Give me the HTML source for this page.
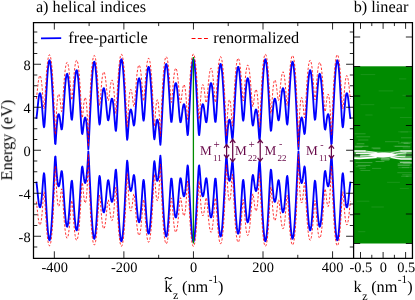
<!DOCTYPE html>
<html><head><meta charset="utf-8"><title>bands</title><style>html,body{margin:0;padding:0;background:#fff;}body{width:415px;height:300px;overflow:hidden;font-family:"Liberation Serif",serif;}</style></head><body>
<svg width="415" height="300" viewBox="0 0 415 300" text-rendering="geometricPrecision" style="display:block;font-family:'Liberation Serif',serif">
<rect width="415" height="300" fill="#fff"/>
<rect x="353.60" y="66.3" width="58.85" height="177.2" fill="#008b00"/>
<g id="gap" fill="none" stroke="#fff" stroke-linecap="round">
<path d="M354.2,150.2 L383.7,151.8 L411.9,150.2 V159.6 L383.7,158.2 L354.2,159.6 Z" fill="#fff" stroke="none" opacity="0.3"/>
<path d="M368,155 Q376,152.3 383.7,152.6 Q391,152.4 398,154.7 Q391,157.3 383.7,157.5 Q376,157.8 368,155 Z" fill="#fff" stroke="none"/>
<path d="M354.6,151 H365" stroke-width="1.6"/>
<path d="M365,151 Q371,151.4 377,152.8" stroke-width="1.1" opacity="0.75"/>
<path d="M356.5,153.4 Q366,153.5 376,153" stroke-width="1.3" opacity="0.95"/>
<path d="M360.5,156 Q368,155.9 376,155.5" stroke-width="1.1" opacity="0.9"/>
<path d="M354.6,158.2 Q365,158.6 376,157.2" stroke-width="1.7"/>
<path d="M411.4,151 H401" stroke-width="1.5" opacity="0.95"/>
<path d="M401,150.9 Q396,151.6 391,153" stroke-width="1.2" opacity="0.7"/>
<path d="M406,152.9 Q401,153.2 396,154" stroke-width="1.1" opacity="0.7"/>
<path d="M392,156 Q398,156.7 405,156.8" stroke-width="1.1" opacity="0.85"/>
<path d="M391,157 Q396,158.6 401,158.9 H411.4" stroke-width="1.5" opacity="0.95"/>
<path d="M382,159.3 H388.5" stroke-width="2.4" opacity="0.3"/>
<path d="M400.5,162.4 H411.4" stroke-width="1.1" opacity="0.5"/>
<path d="M355,146.3 H368 M372,148 H380 M395,146.4 H410 M356,162.6 H372 M358,165.4 H370 M398,165 H410 M404,143.3 H410 M357,143.8 H364 M376,161.5 H384" stroke-width="1" opacity="0.25"/>
<path d="M406.1,176.2 h5.4 M398.4,143.1 h9.6 M398.7,167.7 h10.0 M355.0,133.8 h10.2 M399.5,161.8 h10.0 M403.7,163.3 h7.8 M355.2,147.4 h6.7 M358.5,140.0 h9.5 M372.5,168.4 h8.3 M401.3,137.8 h10.2 M397.7,172.7 h13.8 M398.1,163.6 h13.4 M356.9,136.8 h12.9 M360.8,170.5 h9.1 M359.8,168.6 h5.5 M398.2,165.6 h11.0 M356.1,166.7 h9.4 M403.0,163.1 h8.5 M355.5,146.3 h7.5 M402.6,174.8 h8.7 M401.5,176.3 h6.6 M373.5,148.8 h6.6 M401.4,142.3 h10.1 M385.4,141.7 h13.6 M402.2,167.4 h9.3 M403.1,147.9 h6.5" stroke-width="0.8" opacity="0.2"/>
<path d="M399.5,78.9 h6.4 M398.6,131.8 h12.9 M402.9,95.3 h8.1 M379.0,90.9 h13.9 M403.3,152.3 h5.9 M365.7,115.0 h6.5 M358.6,231.7 h6.3 M361.0,74.6 h13.8 M400.2,188.4 h8.3 M357.0,201.2 h12.0 M390.6,107.9 h13.9 M371.8,207.0 h11.7 M398.5,158.0 h5.3 M400.3,117.5 h11.2 M393.7,146.0 h13.9 M400.8,132.0 h7.0 M360.8,104.7 h13.1 M355.1,151.5 h12.2 M387.5,182.3 h12.0 M399.4,151.3 h12.1" stroke-width="0.8" opacity="0.12"/>
</g>
<g fill="none" stroke-linejoin="round">
<path d="M36.30,118.81 L36.70,116.32 L37.10,112.82 L37.50,108.83 L37.90,104.80 L38.30,101.05 L38.70,97.85 L39.10,95.38 L39.50,93.77 L39.90,93.11 L40.30,93.47 L40.70,94.87 L41.10,97.28 L41.50,100.65 L41.90,104.87 L42.30,109.79 L42.70,115.11 L43.10,120.39 L43.50,124.83 L43.90,127.22 L44.31,126.38 L44.71,122.36 L45.11,116.21 L45.51,108.99 L45.91,101.38 L46.31,93.83 L46.71,86.64 L47.11,80.03 L47.51,74.17 L47.91,69.21 L48.31,65.27 L48.71,62.42 L49.11,60.74 L49.51,60.24 L49.91,60.95 L50.31,62.85 L50.71,65.90 L51.11,70.04 L51.51,75.19 L51.91,81.24 L52.31,88.08 L52.71,95.57 L53.11,103.56 L53.51,111.88 L53.91,120.37 L54.31,128.80 L54.71,136.88 L55.11,143.65 L55.51,143.99 L55.91,138.34 L56.31,132.31 L56.71,126.88 L57.11,122.30 L57.51,118.68 L57.91,116.10 L58.31,114.57 L58.71,114.12 L59.11,114.69 L59.51,116.21 L59.92,118.56 L60.32,121.50 L60.72,124.71 L61.12,127.63 L61.52,129.43 L61.92,129.20 L62.32,126.60 L62.72,122.10 L63.12,116.42 L63.52,110.18 L63.92,103.79 L64.32,97.57 L64.72,91.75 L65.12,86.53 L65.52,82.05 L65.92,78.45 L66.32,75.83 L66.72,74.26 L67.12,73.78 L67.52,74.43 L67.92,76.18 L68.32,79.01 L68.72,82.83 L69.12,87.55 L69.52,92.99 L69.92,98.96 L70.32,105.13 L70.72,111.05 L71.12,116.05 L71.52,119.23 L71.92,119.73 L72.32,117.37 L72.72,112.79 L73.12,106.93 L73.52,100.55 L73.92,94.17 L74.32,88.17 L74.72,82.79 L75.12,78.22 L75.52,74.60 L75.93,72.02 L76.33,70.54 L76.73,70.20 L77.13,70.99 L77.53,72.90 L77.93,75.88 L78.33,79.84 L78.73,84.70 L79.13,90.32 L79.53,96.57 L79.93,103.27 L80.33,110.21 L80.73,117.13 L81.13,123.67 L81.53,129.27 L81.93,133.03 L82.33,134.01 L82.73,132.28 L83.13,129.09 L83.53,125.56 L83.93,122.34 L84.33,119.80 L84.73,118.14 L85.13,117.48 L85.53,117.88 L85.93,119.37 L86.33,121.95 L86.73,125.58 L87.13,130.21 L87.53,135.76 L87.93,142.13 L88.33,149.19 L88.73,143.66 L89.13,135.60 L89.53,127.28 L89.93,118.85 L90.33,110.48 L90.73,102.32 L91.13,94.55 L91.54,87.32 L91.94,80.76 L92.34,75.01 L92.74,70.19 L93.14,66.38 L93.54,63.67 L93.94,62.12 L94.34,61.75 L94.74,62.57 L95.14,64.57 L95.54,67.70 L95.94,71.90 L96.34,77.07 L96.74,83.08 L97.14,89.76 L97.54,96.92 L97.94,104.27 L98.34,111.42 L98.74,117.79 L99.14,122.51 L99.54,124.53 L99.94,123.38 L100.34,119.70 L100.74,114.65 L101.14,109.17 L101.54,103.83 L101.94,99.00 L102.34,94.91 L102.74,91.72 L103.14,89.50 L103.54,88.33 L103.94,88.20 L104.34,89.10 L104.74,90.97 L105.14,93.73 L105.54,97.24 L105.94,101.34 L106.34,105.80 L106.74,110.33 L107.15,114.53 L107.55,117.93 L107.95,119.99 L108.35,120.36 L108.75,119.02 L109.15,116.38 L109.55,112.99 L109.95,109.37 L110.35,105.92 L110.75,102.94 L111.15,100.64 L111.55,99.17 L111.95,98.64 L112.35,99.11 L112.75,100.61 L113.15,103.11 L113.55,106.57 L113.95,110.87 L114.35,115.83 L114.75,121.14 L115.15,126.22 L115.55,130.00 L115.95,130.85 L116.35,127.94 L116.75,122.22 L117.15,115.02 L117.55,107.22 L117.95,99.32 L118.35,91.65 L118.75,84.44 L119.15,77.90 L119.55,72.17 L119.95,67.38 L120.35,63.63 L120.75,61.00 L121.15,59.55 L121.55,59.30 L121.95,60.26 L122.35,62.41 L122.76,65.71 L123.16,70.09 L123.56,75.47 L123.96,81.73 L124.36,88.75 L124.76,96.38 L125.16,104.46 L125.56,112.79 L125.96,121.14 L126.36,129.14 L126.76,136.07 L127.16,139.88 L127.56,138.11 L127.96,133.08 L128.36,127.48 L128.76,122.26 L129.16,117.76 L129.56,114.16 L129.96,111.55 L130.36,109.98 L130.76,109.44 L131.16,109.91 L131.56,111.31 L131.96,113.52 L132.36,116.33 L132.76,119.46 L133.16,122.46 L133.56,124.72 L133.96,125.50 L134.36,124.30 L134.76,121.17 L135.16,116.61 L135.56,111.22 L135.96,105.50 L136.36,99.81 L136.76,94.43 L137.16,89.58 L137.56,85.44 L137.96,82.13 L138.36,79.78 L138.77,78.45 L139.17,78.20 L139.57,79.04 L139.97,80.97 L140.37,83.93 L140.77,87.86 L141.17,92.62 L141.57,98.05 L141.97,103.89 L142.37,109.75 L142.77,115.08 L143.17,119.04 L143.57,120.66 L143.97,119.34 L144.37,115.41 L144.77,109.77 L145.17,103.26 L145.57,96.53 L145.97,89.99 L146.37,83.95 L146.77,78.61 L147.17,74.14 L147.57,70.66 L147.97,68.25 L148.37,66.98 L148.77,66.87 L149.17,67.91 L149.57,70.09 L149.97,73.34 L150.37,77.61 L150.77,82.78 L151.17,88.75 L151.57,95.38 L151.97,102.50 L152.37,109.96 L152.77,117.52 L153.17,124.94 L153.57,131.77 L153.97,137.15 L154.38,139.33 L154.78,137.42 L155.18,133.47 L155.58,129.25 L155.98,125.50 L156.38,122.55 L156.78,120.56 L157.18,119.61 L157.58,119.76 L157.98,121.01 L158.38,123.34 L158.78,126.71 L159.18,131.02 L159.58,136.10 L159.98,141.50 L160.38,144.85 L160.78,141.04 L161.18,134.00 L161.58,126.18 L161.98,118.12 L162.38,110.06 L162.78,102.20 L163.18,94.71 L163.58,87.75 L163.98,81.47 L164.38,75.99 L164.78,71.44 L165.18,67.90 L165.58,65.46 L165.98,64.16 L166.38,64.04 L166.78,65.09 L167.18,67.30 L167.58,70.62 L167.98,74.97 L168.38,80.23 L168.78,86.28 L169.18,92.92 L169.58,99.91 L169.99,106.90 L170.39,113.40 L170.79,118.68 L171.19,121.77 L171.59,121.91 L171.99,119.22 L172.39,114.63 L172.79,109.14 L173.19,103.46 L173.59,98.08 L173.99,93.28 L174.39,89.26 L174.79,86.18 L175.19,84.10 L175.59,83.08 L175.99,83.13 L176.39,84.23 L176.79,86.33 L177.19,89.34 L177.59,93.16 L177.99,97.63 L178.39,102.56 L178.79,107.68 L179.19,112.68 L179.59,117.11 L179.99,120.46 L180.39,122.20 L180.79,122.09 L181.19,120.36 L181.59,117.56 L181.99,114.29 L182.39,111.06 L182.79,108.22 L183.19,106.02 L183.59,104.63 L183.99,104.17 L184.39,104.70 L184.79,106.26 L185.19,108.84 L185.60,112.37 L186.00,116.76 L186.40,121.82 L186.80,127.20 L187.20,132.16 L187.60,135.09 L188.00,133.92 L188.40,128.87 L188.80,121.79 L189.20,113.86 L189.60,105.69 L190.00,97.64 L190.40,89.94 L190.80,82.80 L191.20,76.37 L191.60,70.80 L192.00,66.20 L192.40,62.67 L192.80,60.28 L193.20,59.07 L193.60,59.07 L194.00,60.28 L194.40,62.67 L194.80,66.20 L195.20,70.80 L195.60,76.37 L196.00,82.80 L196.40,89.94 L196.80,97.64 L197.20,105.69 L197.60,113.86 L198.00,121.79 L198.40,128.87 L198.80,133.92 L199.20,135.09 L199.60,132.16 L200.00,127.20 L200.40,121.82 L200.80,116.76 L201.20,112.37 L201.61,108.84 L202.01,106.26 L202.41,104.70 L202.81,104.17 L203.21,104.63 L203.61,106.02 L204.01,108.22 L204.41,111.06 L204.81,114.29 L205.21,117.56 L205.61,120.36 L206.01,122.09 L206.41,122.20 L206.81,120.46 L207.21,117.11 L207.61,112.68 L208.01,107.68 L208.41,102.56 L208.81,97.63 L209.21,93.16 L209.61,89.34 L210.01,86.33 L210.41,84.23 L210.81,83.13 L211.21,83.08 L211.61,84.10 L212.01,86.18 L212.41,89.26 L212.81,93.28 L213.21,98.08 L213.61,103.46 L214.01,109.14 L214.41,114.63 L214.81,119.22 L215.21,121.91 L215.61,121.77 L216.01,118.68 L216.41,113.40 L216.81,106.90 L217.22,99.91 L217.62,92.92 L218.02,86.28 L218.42,80.23 L218.82,74.97 L219.22,70.62 L219.62,67.30 L220.02,65.09 L220.42,64.04 L220.82,64.16 L221.22,65.46 L221.62,67.90 L222.02,71.44 L222.42,75.99 L222.82,81.47 L223.22,87.75 L223.62,94.71 L224.02,102.20 L224.42,110.06 L224.82,118.12 L225.22,126.18 L225.62,134.00 L226.02,141.04 L226.42,144.85 L226.82,141.50 L227.22,136.10 L227.62,131.02 L228.02,126.71 L228.42,123.34 L228.82,121.01 L229.22,119.76 L229.62,119.61 L230.02,120.56 L230.42,122.55 L230.82,125.50 L231.22,129.25 L231.62,133.47 L232.02,137.42 L232.42,139.33 L232.83,137.15 L233.23,131.77 L233.63,124.94 L234.03,117.52 L234.43,109.96 L234.83,102.50 L235.23,95.38 L235.63,88.75 L236.03,82.78 L236.43,77.61 L236.83,73.34 L237.23,70.09 L237.63,67.91 L238.03,66.87 L238.43,66.98 L238.83,68.25 L239.23,70.66 L239.63,74.14 L240.03,78.61 L240.43,83.95 L240.83,89.99 L241.23,96.53 L241.63,103.26 L242.03,109.77 L242.43,115.41 L242.83,119.34 L243.23,120.66 L243.63,119.04 L244.03,115.08 L244.43,109.75 L244.83,103.89 L245.23,98.05 L245.63,92.62 L246.03,87.86 L246.43,83.93 L246.83,80.97 L247.23,79.04 L247.63,78.20 L248.03,78.45 L248.44,79.78 L248.84,82.13 L249.24,85.44 L249.64,89.58 L250.04,94.43 L250.44,99.81 L250.84,105.50 L251.24,111.22 L251.64,116.61 L252.04,121.17 L252.44,124.30 L252.84,125.50 L253.24,124.72 L253.64,122.46 L254.04,119.46 L254.44,116.33 L254.84,113.52 L255.24,111.31 L255.64,109.91 L256.04,109.44 L256.44,109.98 L256.84,111.55 L257.24,114.16 L257.64,117.76 L258.04,122.26 L258.44,127.48 L258.84,133.08 L259.24,138.11 L259.64,139.88 L260.04,136.07 L260.44,129.14 L260.84,121.14 L261.24,112.79 L261.64,104.46 L262.04,96.38 L262.44,88.75 L262.84,81.73 L263.24,75.47 L263.64,70.09 L264.04,65.71 L264.45,62.41 L264.85,60.26 L265.25,59.30 L265.65,59.55 L266.05,61.00 L266.45,63.63 L266.85,67.38 L267.25,72.17 L267.65,77.90 L268.05,84.44 L268.45,91.65 L268.85,99.32 L269.25,107.22 L269.65,115.02 L270.05,122.22 L270.45,127.94 L270.85,130.85 L271.25,130.00 L271.65,126.22 L272.05,121.14 L272.45,115.83 L272.85,110.87 L273.25,106.57 L273.65,103.11 L274.05,100.61 L274.45,99.11 L274.85,98.64 L275.25,99.17 L275.65,100.64 L276.05,102.94 L276.45,105.92 L276.85,109.37 L277.25,112.99 L277.65,116.38 L278.05,119.02 L278.45,120.36 L278.85,119.99 L279.25,117.93 L279.65,114.53 L280.06,110.33 L280.46,105.80 L280.86,101.34 L281.26,97.24 L281.66,93.73 L282.06,90.97 L282.46,89.10 L282.86,88.20 L283.26,88.33 L283.66,89.50 L284.06,91.72 L284.46,94.91 L284.86,99.00 L285.26,103.83 L285.66,109.17 L286.06,114.65 L286.46,119.70 L286.86,123.38 L287.26,124.53 L287.66,122.51 L288.06,117.79 L288.46,111.42 L288.86,104.27 L289.26,96.92 L289.66,89.76 L290.06,83.08 L290.46,77.07 L290.86,71.90 L291.26,67.70 L291.66,64.57 L292.06,62.57 L292.46,61.75 L292.86,62.12 L293.26,63.67 L293.66,66.38 L294.06,70.19 L294.46,75.01 L294.86,80.76 L295.26,87.32 L295.67,94.55 L296.07,102.32 L296.47,110.48 L296.87,118.85 L297.27,127.28 L297.67,135.60 L298.07,143.66 L298.47,149.19 L298.87,142.13 L299.27,135.76 L299.67,130.21 L300.07,125.58 L300.47,121.95 L300.87,119.37 L301.27,117.88 L301.67,117.48 L302.07,118.14 L302.47,119.80 L302.87,122.34 L303.27,125.56 L303.67,129.09 L304.07,132.28 L304.47,134.01 L304.87,133.03 L305.27,129.27 L305.67,123.67 L306.07,117.13 L306.47,110.21 L306.87,103.27 L307.27,96.57 L307.67,90.32 L308.07,84.70 L308.47,79.84 L308.87,75.88 L309.27,72.90 L309.67,70.99 L310.07,70.20 L310.47,70.54 L310.87,72.02 L311.28,74.60 L311.68,78.22 L312.08,82.79 L312.48,88.17 L312.88,94.17 L313.28,100.55 L313.68,106.93 L314.08,112.79 L314.48,117.37 L314.88,119.73 L315.28,119.23 L315.68,116.05 L316.08,111.05 L316.48,105.13 L316.88,98.96 L317.28,92.99 L317.68,87.55 L318.08,82.83 L318.48,79.01 L318.88,76.18 L319.28,74.43 L319.68,73.78 L320.08,74.26 L320.48,75.83 L320.88,78.45 L321.28,82.05 L321.68,86.53 L322.08,91.75 L322.48,97.57 L322.88,103.79 L323.28,110.18 L323.68,116.42 L324.08,122.10 L324.48,126.60 L324.88,129.20 L325.28,129.43 L325.68,127.63 L326.08,124.71 L326.48,121.50 L326.88,118.56 L327.29,116.21 L327.69,114.69 L328.09,114.12 L328.49,114.57 L328.89,116.10 L329.29,118.68 L329.69,122.30 L330.09,126.88 L330.49,132.31 L330.89,138.34 L331.29,143.99 L331.69,143.65 L332.09,136.88 L332.49,128.80 L332.89,120.37 L333.29,111.88 L333.69,103.56 L334.09,95.57 L334.49,88.08 L334.89,81.24 L335.29,75.19 L335.69,70.04 L336.09,65.90 L336.49,62.85 L336.89,60.95 L337.29,60.24 L337.69,60.74 L338.09,62.42 L338.49,65.27 L338.89,69.21 L339.29,74.17 L339.69,80.03 L340.09,86.64 L340.49,93.83 L340.89,101.38 L341.29,108.99 L341.69,116.21 L342.09,122.36 L342.49,126.38 L342.90,127.22 L343.30,124.83 L343.70,120.39 L344.10,115.11 L344.50,109.79 L344.90,104.87 L345.30,100.65 L345.70,97.28 L346.10,94.87 L346.50,93.47 L346.90,93.11 L347.30,93.77 L347.70,95.38 L348.10,97.85 L348.50,101.05 L348.90,104.80 L349.30,108.83 L349.70,112.82 L350.10,116.32 L350.50,118.81" stroke="#0000ff" stroke-width="1.85"/>
<path d="M36.30,181.69 L36.70,184.18 L37.10,187.68 L37.50,191.67 L37.90,195.70 L38.30,199.45 L38.70,202.65 L39.10,205.12 L39.50,206.73 L39.90,207.39 L40.30,207.03 L40.70,205.63 L41.10,203.22 L41.50,199.85 L41.90,195.63 L42.30,190.71 L42.70,185.39 L43.10,180.11 L43.50,175.67 L43.90,173.28 L44.31,174.12 L44.71,178.14 L45.11,184.29 L45.51,191.51 L45.91,199.12 L46.31,206.67 L46.71,213.86 L47.11,220.47 L47.51,226.33 L47.91,231.29 L48.31,235.23 L48.71,238.08 L49.11,239.76 L49.51,240.26 L49.91,239.55 L50.31,237.65 L50.71,234.60 L51.11,230.46 L51.51,225.31 L51.91,219.26 L52.31,212.42 L52.71,204.93 L53.11,196.94 L53.51,188.62 L53.91,180.13 L54.31,171.70 L54.71,163.62 L55.11,156.85 L55.51,156.51 L55.91,162.16 L56.31,168.19 L56.71,173.62 L57.11,178.20 L57.51,181.82 L57.91,184.40 L58.31,185.93 L58.71,186.38 L59.11,185.81 L59.51,184.29 L59.92,181.94 L60.32,179.00 L60.72,175.79 L61.12,172.87 L61.52,171.07 L61.92,171.30 L62.32,173.90 L62.72,178.40 L63.12,184.08 L63.52,190.32 L63.92,196.71 L64.32,202.93 L64.72,208.75 L65.12,213.97 L65.52,218.45 L65.92,222.05 L66.32,224.67 L66.72,226.24 L67.12,226.72 L67.52,226.07 L67.92,224.32 L68.32,221.49 L68.72,217.67 L69.12,212.95 L69.52,207.51 L69.92,201.54 L70.32,195.37 L70.72,189.45 L71.12,184.45 L71.52,181.27 L71.92,180.77 L72.32,183.13 L72.72,187.71 L73.12,193.57 L73.52,199.95 L73.92,206.33 L74.32,212.33 L74.72,217.71 L75.12,222.28 L75.52,225.90 L75.93,228.48 L76.33,229.96 L76.73,230.30 L77.13,229.51 L77.53,227.60 L77.93,224.62 L78.33,220.66 L78.73,215.80 L79.13,210.18 L79.53,203.93 L79.93,197.23 L80.33,190.29 L80.73,183.37 L81.13,176.83 L81.53,171.23 L81.93,167.47 L82.33,166.49 L82.73,168.22 L83.13,171.41 L83.53,174.94 L83.93,178.16 L84.33,180.70 L84.73,182.36 L85.13,183.02 L85.53,182.62 L85.93,181.13 L86.33,178.55 L86.73,174.92 L87.13,170.29 L87.53,164.74 L87.93,158.37 L88.33,151.31 L88.73,156.84 L89.13,164.90 L89.53,173.22 L89.93,181.65 L90.33,190.02 L90.73,198.18 L91.13,205.95 L91.54,213.18 L91.94,219.74 L92.34,225.49 L92.74,230.31 L93.14,234.12 L93.54,236.83 L93.94,238.38 L94.34,238.75 L94.74,237.93 L95.14,235.93 L95.54,232.80 L95.94,228.60 L96.34,223.43 L96.74,217.42 L97.14,210.74 L97.54,203.58 L97.94,196.23 L98.34,189.08 L98.74,182.71 L99.14,177.99 L99.54,175.97 L99.94,177.12 L100.34,180.80 L100.74,185.85 L101.14,191.33 L101.54,196.67 L101.94,201.50 L102.34,205.59 L102.74,208.78 L103.14,211.00 L103.54,212.17 L103.94,212.30 L104.34,211.40 L104.74,209.53 L105.14,206.77 L105.54,203.26 L105.94,199.16 L106.34,194.70 L106.74,190.17 L107.15,185.97 L107.55,182.57 L107.95,180.51 L108.35,180.14 L108.75,181.48 L109.15,184.12 L109.55,187.51 L109.95,191.13 L110.35,194.58 L110.75,197.56 L111.15,199.86 L111.55,201.33 L111.95,201.86 L112.35,201.39 L112.75,199.89 L113.15,197.39 L113.55,193.93 L113.95,189.63 L114.35,184.67 L114.75,179.36 L115.15,174.28 L115.55,170.50 L115.95,169.65 L116.35,172.56 L116.75,178.28 L117.15,185.48 L117.55,193.28 L117.95,201.18 L118.35,208.85 L118.75,216.06 L119.15,222.60 L119.55,228.33 L119.95,233.12 L120.35,236.87 L120.75,239.50 L121.15,240.95 L121.55,241.20 L121.95,240.24 L122.35,238.09 L122.76,234.79 L123.16,230.41 L123.56,225.03 L123.96,218.77 L124.36,211.75 L124.76,204.12 L125.16,196.04 L125.56,187.71 L125.96,179.36 L126.36,171.36 L126.76,164.43 L127.16,160.62 L127.56,162.39 L127.96,167.42 L128.36,173.02 L128.76,178.24 L129.16,182.74 L129.56,186.34 L129.96,188.95 L130.36,190.52 L130.76,191.06 L131.16,190.59 L131.56,189.19 L131.96,186.98 L132.36,184.17 L132.76,181.04 L133.16,178.04 L133.56,175.78 L133.96,175.00 L134.36,176.20 L134.76,179.33 L135.16,183.89 L135.56,189.28 L135.96,195.00 L136.36,200.69 L136.76,206.07 L137.16,210.92 L137.56,215.06 L137.96,218.37 L138.36,220.72 L138.77,222.05 L139.17,222.30 L139.57,221.46 L139.97,219.53 L140.37,216.57 L140.77,212.64 L141.17,207.88 L141.57,202.45 L141.97,196.61 L142.37,190.75 L142.77,185.42 L143.17,181.46 L143.57,179.84 L143.97,181.16 L144.37,185.09 L144.77,190.73 L145.17,197.24 L145.57,203.97 L145.97,210.51 L146.37,216.55 L146.77,221.89 L147.17,226.36 L147.57,229.84 L147.97,232.25 L148.37,233.52 L148.77,233.63 L149.17,232.59 L149.57,230.41 L149.97,227.16 L150.37,222.89 L150.77,217.72 L151.17,211.75 L151.57,205.12 L151.97,198.00 L152.37,190.54 L152.77,182.98 L153.17,175.56 L153.57,168.73 L153.97,163.35 L154.38,161.17 L154.78,163.08 L155.18,167.03 L155.58,171.25 L155.98,175.00 L156.38,177.95 L156.78,179.94 L157.18,180.89 L157.58,180.74 L157.98,179.49 L158.38,177.16 L158.78,173.79 L159.18,169.48 L159.58,164.40 L159.98,159.00 L160.38,155.65 L160.78,159.46 L161.18,166.50 L161.58,174.32 L161.98,182.38 L162.38,190.44 L162.78,198.30 L163.18,205.79 L163.58,212.75 L163.98,219.03 L164.38,224.51 L164.78,229.06 L165.18,232.60 L165.58,235.04 L165.98,236.34 L166.38,236.46 L166.78,235.41 L167.18,233.20 L167.58,229.88 L167.98,225.53 L168.38,220.27 L168.78,214.22 L169.18,207.58 L169.58,200.59 L169.99,193.60 L170.39,187.10 L170.79,181.82 L171.19,178.73 L171.59,178.59 L171.99,181.28 L172.39,185.87 L172.79,191.36 L173.19,197.04 L173.59,202.42 L173.99,207.22 L174.39,211.24 L174.79,214.32 L175.19,216.40 L175.59,217.42 L175.99,217.37 L176.39,216.27 L176.79,214.17 L177.19,211.16 L177.59,207.34 L177.99,202.87 L178.39,197.94 L178.79,192.82 L179.19,187.82 L179.59,183.39 L179.99,180.04 L180.39,178.30 L180.79,178.41 L181.19,180.14 L181.59,182.94 L181.99,186.21 L182.39,189.44 L182.79,192.28 L183.19,194.48 L183.59,195.87 L183.99,196.33 L184.39,195.80 L184.79,194.24 L185.19,191.66 L185.60,188.13 L186.00,183.74 L186.40,178.68 L186.80,173.30 L187.20,168.34 L187.60,165.41 L188.00,166.58 L188.40,171.63 L188.80,178.71 L189.20,186.64 L189.60,194.81 L190.00,202.86 L190.40,210.56 L190.80,217.70 L191.20,224.13 L191.60,229.70 L192.00,234.30 L192.40,237.83 L192.80,240.22 L193.20,241.43 L193.60,241.43 L194.00,240.22 L194.40,237.83 L194.80,234.30 L195.20,229.70 L195.60,224.13 L196.00,217.70 L196.40,210.56 L196.80,202.86 L197.20,194.81 L197.60,186.64 L198.00,178.71 L198.40,171.63 L198.80,166.58 L199.20,165.41 L199.60,168.34 L200.00,173.30 L200.40,178.68 L200.80,183.74 L201.20,188.13 L201.61,191.66 L202.01,194.24 L202.41,195.80 L202.81,196.33 L203.21,195.87 L203.61,194.48 L204.01,192.28 L204.41,189.44 L204.81,186.21 L205.21,182.94 L205.61,180.14 L206.01,178.41 L206.41,178.30 L206.81,180.04 L207.21,183.39 L207.61,187.82 L208.01,192.82 L208.41,197.94 L208.81,202.87 L209.21,207.34 L209.61,211.16 L210.01,214.17 L210.41,216.27 L210.81,217.37 L211.21,217.42 L211.61,216.40 L212.01,214.32 L212.41,211.24 L212.81,207.22 L213.21,202.42 L213.61,197.04 L214.01,191.36 L214.41,185.87 L214.81,181.28 L215.21,178.59 L215.61,178.73 L216.01,181.82 L216.41,187.10 L216.81,193.60 L217.22,200.59 L217.62,207.58 L218.02,214.22 L218.42,220.27 L218.82,225.53 L219.22,229.88 L219.62,233.20 L220.02,235.41 L220.42,236.46 L220.82,236.34 L221.22,235.04 L221.62,232.60 L222.02,229.06 L222.42,224.51 L222.82,219.03 L223.22,212.75 L223.62,205.79 L224.02,198.30 L224.42,190.44 L224.82,182.38 L225.22,174.32 L225.62,166.50 L226.02,159.46 L226.42,155.65 L226.82,159.00 L227.22,164.40 L227.62,169.48 L228.02,173.79 L228.42,177.16 L228.82,179.49 L229.22,180.74 L229.62,180.89 L230.02,179.94 L230.42,177.95 L230.82,175.00 L231.22,171.25 L231.62,167.03 L232.02,163.08 L232.42,161.17 L232.83,163.35 L233.23,168.73 L233.63,175.56 L234.03,182.98 L234.43,190.54 L234.83,198.00 L235.23,205.12 L235.63,211.75 L236.03,217.72 L236.43,222.89 L236.83,227.16 L237.23,230.41 L237.63,232.59 L238.03,233.63 L238.43,233.52 L238.83,232.25 L239.23,229.84 L239.63,226.36 L240.03,221.89 L240.43,216.55 L240.83,210.51 L241.23,203.97 L241.63,197.24 L242.03,190.73 L242.43,185.09 L242.83,181.16 L243.23,179.84 L243.63,181.46 L244.03,185.42 L244.43,190.75 L244.83,196.61 L245.23,202.45 L245.63,207.88 L246.03,212.64 L246.43,216.57 L246.83,219.53 L247.23,221.46 L247.63,222.30 L248.03,222.05 L248.44,220.72 L248.84,218.37 L249.24,215.06 L249.64,210.92 L250.04,206.07 L250.44,200.69 L250.84,195.00 L251.24,189.28 L251.64,183.89 L252.04,179.33 L252.44,176.20 L252.84,175.00 L253.24,175.78 L253.64,178.04 L254.04,181.04 L254.44,184.17 L254.84,186.98 L255.24,189.19 L255.64,190.59 L256.04,191.06 L256.44,190.52 L256.84,188.95 L257.24,186.34 L257.64,182.74 L258.04,178.24 L258.44,173.02 L258.84,167.42 L259.24,162.39 L259.64,160.62 L260.04,164.43 L260.44,171.36 L260.84,179.36 L261.24,187.71 L261.64,196.04 L262.04,204.12 L262.44,211.75 L262.84,218.77 L263.24,225.03 L263.64,230.41 L264.04,234.79 L264.45,238.09 L264.85,240.24 L265.25,241.20 L265.65,240.95 L266.05,239.50 L266.45,236.87 L266.85,233.12 L267.25,228.33 L267.65,222.60 L268.05,216.06 L268.45,208.85 L268.85,201.18 L269.25,193.28 L269.65,185.48 L270.05,178.28 L270.45,172.56 L270.85,169.65 L271.25,170.50 L271.65,174.28 L272.05,179.36 L272.45,184.67 L272.85,189.63 L273.25,193.93 L273.65,197.39 L274.05,199.89 L274.45,201.39 L274.85,201.86 L275.25,201.33 L275.65,199.86 L276.05,197.56 L276.45,194.58 L276.85,191.13 L277.25,187.51 L277.65,184.12 L278.05,181.48 L278.45,180.14 L278.85,180.51 L279.25,182.57 L279.65,185.97 L280.06,190.17 L280.46,194.70 L280.86,199.16 L281.26,203.26 L281.66,206.77 L282.06,209.53 L282.46,211.40 L282.86,212.30 L283.26,212.17 L283.66,211.00 L284.06,208.78 L284.46,205.59 L284.86,201.50 L285.26,196.67 L285.66,191.33 L286.06,185.85 L286.46,180.80 L286.86,177.12 L287.26,175.97 L287.66,177.99 L288.06,182.71 L288.46,189.08 L288.86,196.23 L289.26,203.58 L289.66,210.74 L290.06,217.42 L290.46,223.43 L290.86,228.60 L291.26,232.80 L291.66,235.93 L292.06,237.93 L292.46,238.75 L292.86,238.38 L293.26,236.83 L293.66,234.12 L294.06,230.31 L294.46,225.49 L294.86,219.74 L295.26,213.18 L295.67,205.95 L296.07,198.18 L296.47,190.02 L296.87,181.65 L297.27,173.22 L297.67,164.90 L298.07,156.84 L298.47,151.31 L298.87,158.37 L299.27,164.74 L299.67,170.29 L300.07,174.92 L300.47,178.55 L300.87,181.13 L301.27,182.62 L301.67,183.02 L302.07,182.36 L302.47,180.70 L302.87,178.16 L303.27,174.94 L303.67,171.41 L304.07,168.22 L304.47,166.49 L304.87,167.47 L305.27,171.23 L305.67,176.83 L306.07,183.37 L306.47,190.29 L306.87,197.23 L307.27,203.93 L307.67,210.18 L308.07,215.80 L308.47,220.66 L308.87,224.62 L309.27,227.60 L309.67,229.51 L310.07,230.30 L310.47,229.96 L310.87,228.48 L311.28,225.90 L311.68,222.28 L312.08,217.71 L312.48,212.33 L312.88,206.33 L313.28,199.95 L313.68,193.57 L314.08,187.71 L314.48,183.13 L314.88,180.77 L315.28,181.27 L315.68,184.45 L316.08,189.45 L316.48,195.37 L316.88,201.54 L317.28,207.51 L317.68,212.95 L318.08,217.67 L318.48,221.49 L318.88,224.32 L319.28,226.07 L319.68,226.72 L320.08,226.24 L320.48,224.67 L320.88,222.05 L321.28,218.45 L321.68,213.97 L322.08,208.75 L322.48,202.93 L322.88,196.71 L323.28,190.32 L323.68,184.08 L324.08,178.40 L324.48,173.90 L324.88,171.30 L325.28,171.07 L325.68,172.87 L326.08,175.79 L326.48,179.00 L326.88,181.94 L327.29,184.29 L327.69,185.81 L328.09,186.38 L328.49,185.93 L328.89,184.40 L329.29,181.82 L329.69,178.20 L330.09,173.62 L330.49,168.19 L330.89,162.16 L331.29,156.51 L331.69,156.85 L332.09,163.62 L332.49,171.70 L332.89,180.13 L333.29,188.62 L333.69,196.94 L334.09,204.93 L334.49,212.42 L334.89,219.26 L335.29,225.31 L335.69,230.46 L336.09,234.60 L336.49,237.65 L336.89,239.55 L337.29,240.26 L337.69,239.76 L338.09,238.08 L338.49,235.23 L338.89,231.29 L339.29,226.33 L339.69,220.47 L340.09,213.86 L340.49,206.67 L340.89,199.12 L341.29,191.51 L341.69,184.29 L342.09,178.14 L342.49,174.12 L342.90,173.28 L343.30,175.67 L343.70,180.11 L344.10,185.39 L344.50,190.71 L344.90,195.63 L345.30,199.85 L345.70,203.22 L346.10,205.63 L346.50,207.03 L346.90,207.39 L347.30,206.73 L347.70,205.12 L348.10,202.65 L348.50,199.45 L348.90,195.70 L349.30,191.67 L349.70,187.68 L350.10,184.18 L350.50,181.69" stroke="#0000ff" stroke-width="1.85"/>
<path d="M36.30,98.91 L36.70,96.24 L37.10,92.67 L37.50,88.82 L37.90,85.13 L38.30,81.88 L38.70,79.23 L39.10,77.25 L39.50,76.00 L39.90,75.50 L40.30,75.77 L40.70,76.85 L41.10,78.77 L41.50,81.54 L41.90,85.20 L42.30,89.72 L42.70,94.99 L43.10,100.65 L43.50,105.81 L43.90,108.74 L44.31,107.70 L44.71,102.88 L45.11,96.13 L45.51,88.97 L45.91,82.17 L46.31,76.05 L46.71,70.74 L47.11,66.25 L47.51,62.55 L47.91,59.62 L48.31,57.40 L48.71,55.87 L49.11,54.98 L49.51,54.72 L49.91,55.09 L50.31,56.09 L50.71,57.75 L51.11,60.10 L51.51,63.18 L51.91,67.05 L52.31,71.77 L52.71,77.41 L53.11,84.04 L53.51,91.75 L53.91,100.63 L54.31,110.77 L54.71,122.21 L55.11,133.87 L55.51,134.53 L55.91,124.51 L56.31,115.48 L56.71,108.32 L57.11,102.82 L57.51,98.77 L57.91,96.01 L58.31,94.44 L58.71,93.98 L59.11,94.56 L59.51,96.14 L59.92,98.63 L60.32,101.91 L60.72,105.66 L61.12,109.27 L61.52,111.59 L61.92,111.29 L62.32,107.97 L62.72,102.59 L63.12,96.35 L63.52,90.10 L63.92,84.24 L64.32,79.00 L64.72,74.46 L65.12,70.66 L65.52,67.59 L65.92,65.23 L66.32,63.57 L66.72,62.61 L67.12,62.32 L67.52,62.71 L67.92,63.79 L68.32,65.59 L68.72,68.11 L69.12,71.38 L69.52,75.41 L69.92,80.14 L70.32,85.43 L70.72,90.94 L71.12,95.97 L71.52,99.37 L71.92,99.92 L72.32,97.35 L72.72,92.64 L73.12,87.05 L73.52,81.46 L73.92,76.31 L74.32,71.83 L74.72,68.08 L75.12,65.08 L75.52,62.82 L75.93,61.26 L76.33,60.39 L76.73,60.19 L77.13,60.65 L77.53,61.79 L77.93,63.60 L78.33,66.13 L78.73,69.38 L79.13,73.40 L79.53,78.20 L79.93,83.78 L80.33,90.12 L80.73,97.10 L81.13,104.42 L81.53,111.37 L81.93,116.50 L82.33,117.90 L82.73,115.45 L83.13,111.14 L83.53,106.68 L83.93,102.87 L84.33,100.00 L84.73,98.18 L85.13,97.47 L85.53,97.90 L85.93,99.52 L86.33,102.41 L86.73,106.71 L87.13,112.62 L87.53,120.49 L87.93,131.02 L88.33,146.57 L88.73,133.89 L89.13,120.25 L89.53,108.82 L89.93,98.95 L90.33,90.38 L90.73,82.97 L91.13,76.61 L91.54,71.22 L91.94,66.73 L92.34,63.07 L92.74,60.18 L93.14,58.02 L93.54,56.53 L93.94,55.70 L94.34,55.51 L94.74,55.94 L95.14,57.02 L95.54,58.76 L95.94,61.19 L96.34,64.35 L96.74,68.27 L97.14,72.99 L97.54,78.48 L97.94,84.66 L98.34,91.29 L98.74,97.80 L99.14,103.06 L99.54,105.44 L99.94,104.08 L100.34,99.88 L100.74,94.52 L101.14,89.13 L101.54,84.28 L101.94,80.17 L102.34,76.89 L102.74,74.44 L103.14,72.80 L103.54,71.94 L103.94,71.85 L104.34,72.50 L104.74,73.88 L105.14,75.97 L105.54,78.74 L105.94,82.13 L106.34,86.03 L106.74,90.24 L107.15,94.40 L107.55,97.95 L107.95,100.21 L108.35,100.61 L108.75,99.14 L109.15,96.31 L109.55,92.85 L109.95,89.33 L110.35,86.14 L110.75,83.50 L111.15,81.54 L111.55,80.31 L111.95,79.88 L112.35,80.26 L112.75,81.51 L113.15,83.65 L113.55,86.73 L113.95,90.76 L114.35,95.74 L114.75,101.50 L115.15,107.50 L115.55,112.34 L115.95,113.48 L116.35,109.66 L116.75,102.73 L117.15,94.90 L117.55,87.32 L117.95,80.43 L118.35,74.39 L118.75,69.21 L119.15,64.88 L119.55,61.35 L119.95,58.57 L120.35,56.51 L120.75,55.12 L121.15,54.36 L121.55,54.24 L121.95,54.73 L122.35,55.86 L122.76,57.65 L123.16,60.13 L123.56,63.35 L123.96,67.37 L124.36,72.24 L124.76,78.05 L125.16,84.83 L125.56,92.64 L125.96,101.49 L126.36,111.21 L126.76,120.95 L127.16,127.06 L127.56,124.15 L127.96,116.57 L128.36,109.08 L128.76,102.77 L129.16,97.78 L129.56,94.02 L129.96,91.43 L130.36,89.90 L130.76,89.39 L131.16,89.84 L131.56,91.19 L131.96,93.37 L132.36,96.26 L132.76,99.62 L133.16,103.01 L133.56,105.67 L133.96,106.62 L134.36,105.17 L134.76,101.53 L135.16,96.55 L135.56,91.11 L135.96,85.76 L136.36,80.84 L136.76,76.51 L137.16,72.85 L137.56,69.89 L137.96,67.64 L138.36,66.09 L138.77,65.23 L139.17,65.07 L139.57,65.61 L139.97,66.86 L140.37,68.86 L140.77,71.61 L141.17,75.12 L141.57,79.39 L141.97,84.33 L142.37,89.69 L142.77,94.96 L143.17,99.16 L143.57,100.95 L143.97,99.49 L144.37,95.30 L144.77,89.70 L145.17,83.78 L145.57,78.17 L145.97,73.16 L146.37,68.87 L146.77,65.33 L147.17,62.53 L147.57,60.46 L147.97,59.07 L148.37,58.35 L148.77,58.29 L149.17,58.88 L149.57,60.12 L149.97,62.05 L150.37,64.69 L150.77,68.07 L151.17,72.25 L151.57,77.25 L151.97,83.12 L152.37,89.89 L152.77,97.52 L153.17,105.93 L153.57,114.73 L153.97,122.62 L154.38,126.14 L154.78,123.05 L155.18,117.12 L155.58,111.35 L155.98,106.62 L156.38,103.11 L156.78,100.84 L157.18,99.78 L157.58,99.95 L157.98,101.34 L158.38,104.04 L158.78,108.11 L159.18,113.72 L159.58,121.01 L159.98,129.88 L160.38,136.26 L160.78,129.06 L161.18,117.88 L161.58,107.45 L161.98,98.16 L162.38,89.98 L162.78,82.86 L163.18,76.73 L163.58,71.53 L163.98,67.19 L164.38,63.68 L164.78,60.92 L165.18,58.87 L165.58,57.51 L165.98,56.80 L166.38,56.73 L166.78,57.31 L167.18,58.53 L167.58,60.43 L167.98,63.04 L168.38,66.38 L168.78,70.49 L169.18,75.35 L169.58,80.93 L169.99,87.03 L170.39,93.26 L170.79,98.76 L171.19,102.21 L171.59,102.37 L171.99,99.36 L172.39,94.50 L172.79,89.11 L173.19,83.96 L173.59,79.41 L173.99,75.62 L174.39,72.62 L174.79,70.41 L175.19,68.97 L175.59,68.27 L175.99,68.31 L176.39,69.06 L176.79,70.52 L177.19,72.68 L177.59,75.54 L177.99,79.05 L178.39,83.17 L178.79,87.75 L179.19,92.53 L179.59,97.08 L179.99,100.73 L180.39,102.71 L180.79,102.58 L181.19,100.62 L181.59,97.55 L181.99,94.16 L182.39,90.95 L182.79,88.25 L183.19,86.23 L183.59,84.98 L183.99,84.57 L184.39,85.05 L184.79,86.45 L185.19,88.82 L185.60,92.23 L186.00,96.71 L186.40,102.27 L186.80,108.72 L187.20,115.27 L187.60,119.48 L188.00,117.78 L188.40,110.86 L188.80,102.23 L189.20,93.71 L189.60,85.93 L190.00,79.06 L190.40,73.12 L190.80,68.09 L191.20,63.91 L191.60,60.54 L192.00,57.92 L192.40,56.00 L192.80,54.74 L193.20,54.12 L193.60,54.12 L194.00,54.74 L194.40,56.00 L194.80,57.92 L195.20,60.54 L195.60,63.91 L196.00,68.09 L196.40,73.12 L196.80,79.06 L197.20,85.93 L197.60,93.71 L198.00,102.23 L198.40,110.86 L198.80,117.78 L199.20,119.48 L199.60,115.27 L200.00,108.72 L200.40,102.27 L200.80,96.71 L201.20,92.23 L201.61,88.82 L202.01,86.45 L202.41,85.05 L202.81,84.57 L203.21,84.98 L203.61,86.23 L204.01,88.25 L204.41,90.95 L204.81,94.16 L205.21,97.55 L205.61,100.62 L206.01,102.58 L206.41,102.71 L206.81,100.73 L207.21,97.08 L207.61,92.53 L208.01,87.75 L208.41,83.17 L208.81,79.05 L209.21,75.54 L209.61,72.68 L210.01,70.52 L210.41,69.06 L210.81,68.31 L211.21,68.27 L211.61,68.97 L212.01,70.41 L212.41,72.62 L212.81,75.62 L213.21,79.41 L213.61,83.96 L214.01,89.11 L214.41,94.50 L214.81,99.36 L215.21,102.37 L215.61,102.21 L216.01,98.76 L216.41,93.26 L216.81,87.03 L217.22,80.93 L217.62,75.35 L218.02,70.49 L218.42,66.38 L218.82,63.04 L219.22,60.43 L219.62,58.53 L220.02,57.31 L220.42,56.73 L220.82,56.80 L221.22,57.51 L221.62,58.87 L222.02,60.92 L222.42,63.68 L222.82,67.19 L223.22,71.53 L223.62,76.73 L224.02,82.86 L224.42,89.98 L224.82,98.16 L225.22,107.45 L225.62,117.88 L226.02,129.06 L226.42,136.26 L226.82,129.88 L227.22,121.01 L227.62,113.72 L228.02,108.11 L228.42,104.04 L228.82,101.34 L229.22,99.95 L229.62,99.78 L230.02,100.84 L230.42,103.11 L230.82,106.62 L231.22,111.35 L231.62,117.12 L232.02,123.05 L232.42,126.14 L232.83,122.62 L233.23,114.73 L233.63,105.93 L234.03,97.52 L234.43,89.89 L234.83,83.12 L235.23,77.25 L235.63,72.25 L236.03,68.07 L236.43,64.69 L236.83,62.05 L237.23,60.12 L237.63,58.88 L238.03,58.29 L238.43,58.35 L238.83,59.07 L239.23,60.46 L239.63,62.53 L240.03,65.33 L240.43,68.87 L240.83,73.16 L241.23,78.17 L241.63,83.78 L242.03,89.70 L242.43,95.30 L242.83,99.49 L243.23,100.95 L243.63,99.16 L244.03,94.96 L244.43,89.69 L244.83,84.33 L245.23,79.39 L245.63,75.12 L246.03,71.61 L246.43,68.86 L246.83,66.86 L247.23,65.61 L247.63,65.07 L248.03,65.23 L248.44,66.09 L248.84,67.64 L249.24,69.89 L249.64,72.85 L250.04,76.51 L250.44,80.84 L250.84,85.76 L251.24,91.11 L251.64,96.55 L252.04,101.53 L252.44,105.17 L252.84,106.62 L253.24,105.67 L253.64,103.01 L254.04,99.62 L254.44,96.26 L254.84,93.37 L255.24,91.19 L255.64,89.84 L256.04,89.39 L256.44,89.90 L256.84,91.43 L257.24,94.02 L257.64,97.78 L258.04,102.77 L258.44,109.08 L258.84,116.57 L259.24,124.15 L259.64,127.06 L260.04,120.95 L260.44,111.21 L260.84,101.49 L261.24,92.64 L261.64,84.83 L262.04,78.05 L262.44,72.24 L262.84,67.37 L263.24,63.35 L263.64,60.13 L264.04,57.65 L264.45,55.86 L264.85,54.73 L265.25,54.24 L265.65,54.36 L266.05,55.12 L266.45,56.51 L266.85,58.57 L267.25,61.35 L267.65,64.88 L268.05,69.21 L268.45,74.39 L268.85,80.43 L269.25,87.32 L269.65,94.90 L270.05,102.73 L270.45,109.66 L270.85,113.48 L271.25,112.34 L271.65,107.50 L272.05,101.50 L272.45,95.74 L272.85,90.76 L273.25,86.73 L273.65,83.65 L274.05,81.51 L274.45,80.26 L274.85,79.88 L275.25,80.31 L275.65,81.54 L276.05,83.50 L276.45,86.14 L276.85,89.33 L277.25,92.85 L277.65,96.31 L278.05,99.14 L278.45,100.61 L278.85,100.21 L279.25,97.95 L279.65,94.40 L280.06,90.24 L280.46,86.03 L280.86,82.13 L281.26,78.74 L281.66,75.97 L282.06,73.88 L282.46,72.50 L282.86,71.85 L283.26,71.94 L283.66,72.80 L284.06,74.44 L284.46,76.89 L284.86,80.17 L285.26,84.28 L285.66,89.13 L286.06,94.52 L286.46,99.88 L286.86,104.08 L287.26,105.44 L287.66,103.06 L288.06,97.80 L288.46,91.29 L288.86,84.66 L289.26,78.48 L289.66,72.99 L290.06,68.27 L290.46,64.35 L290.86,61.19 L291.26,58.76 L291.66,57.02 L292.06,55.94 L292.46,55.51 L292.86,55.70 L293.26,56.53 L293.66,58.02 L294.06,60.18 L294.46,63.07 L294.86,66.73 L295.26,71.22 L295.67,76.61 L296.07,82.97 L296.47,90.38 L296.87,98.95 L297.27,108.82 L297.67,120.25 L298.07,133.89 L298.47,146.57 L298.87,131.02 L299.27,120.49 L299.67,112.62 L300.07,106.71 L300.47,102.41 L300.87,99.52 L301.27,97.90 L301.67,97.47 L302.07,98.18 L302.47,100.00 L302.87,102.87 L303.27,106.68 L303.67,111.14 L304.07,115.45 L304.47,117.90 L304.87,116.50 L305.27,111.37 L305.67,104.42 L306.07,97.10 L306.47,90.12 L306.87,83.78 L307.27,78.20 L307.67,73.40 L308.07,69.38 L308.47,66.13 L308.87,63.60 L309.27,61.79 L309.67,60.65 L310.07,60.19 L310.47,60.39 L310.87,61.26 L311.28,62.82 L311.68,65.08 L312.08,68.08 L312.48,71.83 L312.88,76.31 L313.28,81.46 L313.68,87.05 L314.08,92.64 L314.48,97.35 L314.88,99.92 L315.28,99.37 L315.68,95.97 L316.08,90.94 L316.48,85.43 L316.88,80.14 L317.28,75.41 L317.68,71.38 L318.08,68.11 L318.48,65.59 L318.88,63.79 L319.28,62.71 L319.68,62.32 L320.08,62.61 L320.48,63.57 L320.88,65.23 L321.28,67.59 L321.68,70.66 L322.08,74.46 L322.48,79.00 L322.88,84.24 L323.28,90.10 L323.68,96.35 L324.08,102.59 L324.48,107.97 L324.88,111.29 L325.28,111.59 L325.68,109.27 L326.08,105.66 L326.48,101.91 L326.88,98.63 L327.29,96.14 L327.69,94.56 L328.09,93.98 L328.49,94.44 L328.89,96.01 L329.29,98.77 L329.69,102.82 L330.09,108.32 L330.49,115.48 L330.89,124.51 L331.29,134.53 L331.69,133.87 L332.09,122.21 L332.49,110.77 L332.89,100.63 L333.29,91.75 L333.69,84.04 L334.09,77.41 L334.49,71.77 L334.89,67.05 L335.29,63.18 L335.69,60.10 L336.09,57.75 L336.49,56.09 L336.89,55.09 L337.29,54.72 L337.69,54.98 L338.09,55.87 L338.49,57.40 L338.89,59.62 L339.29,62.55 L339.69,66.25 L340.09,70.74 L340.49,76.05 L340.89,82.17 L341.29,88.97 L341.69,96.13 L342.09,102.88 L342.49,107.70 L342.90,108.74 L343.30,105.81 L343.70,100.65 L344.10,94.99 L344.50,89.72 L344.90,85.20 L345.30,81.54 L345.70,78.77 L346.10,76.85 L346.50,75.77 L346.90,75.50 L347.30,76.00 L347.70,77.25 L348.10,79.23 L348.50,81.88 L348.90,85.13 L349.30,88.82 L349.70,92.67 L350.10,96.24 L350.50,98.91" stroke="#ff0000" stroke-width="0.8" stroke-dasharray="2.4,1.7"/>
<path d="M36.30,201.59 L36.70,204.26 L37.10,207.83 L37.50,211.68 L37.90,215.37 L38.30,218.62 L38.70,221.27 L39.10,223.25 L39.50,224.50 L39.90,225.00 L40.30,224.73 L40.70,223.65 L41.10,221.73 L41.50,218.96 L41.90,215.30 L42.30,210.78 L42.70,205.51 L43.10,199.85 L43.50,194.69 L43.90,191.76 L44.31,192.80 L44.71,197.62 L45.11,204.37 L45.51,211.53 L45.91,218.33 L46.31,224.45 L46.71,229.76 L47.11,234.25 L47.51,237.95 L47.91,240.88 L48.31,243.10 L48.71,244.63 L49.11,245.52 L49.51,245.78 L49.91,245.41 L50.31,244.41 L50.71,242.75 L51.11,240.40 L51.51,237.32 L51.91,233.45 L52.31,228.73 L52.71,223.09 L53.11,216.46 L53.51,208.75 L53.91,199.87 L54.31,189.73 L54.71,178.29 L55.11,166.63 L55.51,165.97 L55.91,175.99 L56.31,185.02 L56.71,192.18 L57.11,197.68 L57.51,201.73 L57.91,204.49 L58.31,206.06 L58.71,206.52 L59.11,205.94 L59.51,204.36 L59.92,201.87 L60.32,198.59 L60.72,194.84 L61.12,191.23 L61.52,188.91 L61.92,189.21 L62.32,192.53 L62.72,197.91 L63.12,204.15 L63.52,210.40 L63.92,216.26 L64.32,221.50 L64.72,226.04 L65.12,229.84 L65.52,232.91 L65.92,235.27 L66.32,236.93 L66.72,237.89 L67.12,238.18 L67.52,237.79 L67.92,236.71 L68.32,234.91 L68.72,232.39 L69.12,229.12 L69.52,225.09 L69.92,220.36 L70.32,215.07 L70.72,209.56 L71.12,204.53 L71.52,201.13 L71.92,200.58 L72.32,203.15 L72.72,207.86 L73.12,213.45 L73.52,219.04 L73.92,224.19 L74.32,228.67 L74.72,232.42 L75.12,235.42 L75.52,237.68 L75.93,239.24 L76.33,240.11 L76.73,240.31 L77.13,239.85 L77.53,238.71 L77.93,236.90 L78.33,234.37 L78.73,231.12 L79.13,227.10 L79.53,222.30 L79.93,216.72 L80.33,210.38 L80.73,203.40 L81.13,196.08 L81.53,189.13 L81.93,184.00 L82.33,182.60 L82.73,185.05 L83.13,189.36 L83.53,193.82 L83.93,197.63 L84.33,200.50 L84.73,202.32 L85.13,203.03 L85.53,202.60 L85.93,200.98 L86.33,198.09 L86.73,193.79 L87.13,187.88 L87.53,180.01 L87.93,169.48 L88.33,153.93 L88.73,166.61 L89.13,180.25 L89.53,191.68 L89.93,201.55 L90.33,210.12 L90.73,217.53 L91.13,223.89 L91.54,229.28 L91.94,233.77 L92.34,237.43 L92.74,240.32 L93.14,242.48 L93.54,243.97 L93.94,244.80 L94.34,244.99 L94.74,244.56 L95.14,243.48 L95.54,241.74 L95.94,239.31 L96.34,236.15 L96.74,232.23 L97.14,227.51 L97.54,222.02 L97.94,215.84 L98.34,209.21 L98.74,202.70 L99.14,197.44 L99.54,195.06 L99.94,196.42 L100.34,200.62 L100.74,205.98 L101.14,211.37 L101.54,216.22 L101.94,220.33 L102.34,223.61 L102.74,226.06 L103.14,227.70 L103.54,228.56 L103.94,228.65 L104.34,228.00 L104.74,226.62 L105.14,224.53 L105.54,221.76 L105.94,218.37 L106.34,214.47 L106.74,210.26 L107.15,206.10 L107.55,202.55 L107.95,200.29 L108.35,199.89 L108.75,201.36 L109.15,204.19 L109.55,207.65 L109.95,211.17 L110.35,214.36 L110.75,217.00 L111.15,218.96 L111.55,220.19 L111.95,220.62 L112.35,220.24 L112.75,218.99 L113.15,216.85 L113.55,213.77 L113.95,209.74 L114.35,204.76 L114.75,199.00 L115.15,193.00 L115.55,188.16 L115.95,187.02 L116.35,190.84 L116.75,197.77 L117.15,205.60 L117.55,213.18 L117.95,220.07 L118.35,226.11 L118.75,231.29 L119.15,235.62 L119.55,239.15 L119.95,241.93 L120.35,243.99 L120.75,245.38 L121.15,246.14 L121.55,246.26 L121.95,245.77 L122.35,244.64 L122.76,242.85 L123.16,240.37 L123.56,237.15 L123.96,233.13 L124.36,228.26 L124.76,222.45 L125.16,215.67 L125.56,207.86 L125.96,199.01 L126.36,189.29 L126.76,179.55 L127.16,173.44 L127.56,176.35 L127.96,183.93 L128.36,191.42 L128.76,197.73 L129.16,202.72 L129.56,206.48 L129.96,209.07 L130.36,210.60 L130.76,211.11 L131.16,210.66 L131.56,209.31 L131.96,207.13 L132.36,204.24 L132.76,200.88 L133.16,197.49 L133.56,194.83 L133.96,193.88 L134.36,195.33 L134.76,198.97 L135.16,203.95 L135.56,209.39 L135.96,214.74 L136.36,219.66 L136.76,223.99 L137.16,227.65 L137.56,230.61 L137.96,232.86 L138.36,234.41 L138.77,235.27 L139.17,235.43 L139.57,234.89 L139.97,233.64 L140.37,231.64 L140.77,228.89 L141.17,225.38 L141.57,221.11 L141.97,216.17 L142.37,210.81 L142.77,205.54 L143.17,201.34 L143.57,199.55 L143.97,201.01 L144.37,205.20 L144.77,210.80 L145.17,216.72 L145.57,222.33 L145.97,227.34 L146.37,231.63 L146.77,235.17 L147.17,237.97 L147.57,240.04 L147.97,241.43 L148.37,242.15 L148.77,242.21 L149.17,241.62 L149.57,240.38 L149.97,238.45 L150.37,235.81 L150.77,232.43 L151.17,228.25 L151.57,223.25 L151.97,217.38 L152.37,210.61 L152.77,202.98 L153.17,194.57 L153.57,185.77 L153.97,177.88 L154.38,174.36 L154.78,177.45 L155.18,183.38 L155.58,189.15 L155.98,193.88 L156.38,197.39 L156.78,199.66 L157.18,200.72 L157.58,200.55 L157.98,199.16 L158.38,196.46 L158.78,192.39 L159.18,186.78 L159.58,179.49 L159.98,170.62 L160.38,164.24 L160.78,171.44 L161.18,182.62 L161.58,193.05 L161.98,202.34 L162.38,210.52 L162.78,217.64 L163.18,223.77 L163.58,228.97 L163.98,233.31 L164.38,236.82 L164.78,239.58 L165.18,241.63 L165.58,242.99 L165.98,243.70 L166.38,243.77 L166.78,243.19 L167.18,241.97 L167.58,240.07 L167.98,237.46 L168.38,234.12 L168.78,230.01 L169.18,225.15 L169.58,219.57 L169.99,213.47 L170.39,207.24 L170.79,201.74 L171.19,198.29 L171.59,198.13 L171.99,201.14 L172.39,206.00 L172.79,211.39 L173.19,216.54 L173.59,221.09 L173.99,224.88 L174.39,227.88 L174.79,230.09 L175.19,231.53 L175.59,232.23 L175.99,232.19 L176.39,231.44 L176.79,229.98 L177.19,227.82 L177.59,224.96 L177.99,221.45 L178.39,217.33 L178.79,212.75 L179.19,207.97 L179.59,203.42 L179.99,199.77 L180.39,197.79 L180.79,197.92 L181.19,199.88 L181.59,202.95 L181.99,206.34 L182.39,209.55 L182.79,212.25 L183.19,214.27 L183.59,215.52 L183.99,215.93 L184.39,215.45 L184.79,214.05 L185.19,211.68 L185.60,208.27 L186.00,203.79 L186.40,198.23 L186.80,191.78 L187.20,185.23 L187.60,181.02 L188.00,182.72 L188.40,189.64 L188.80,198.27 L189.20,206.79 L189.60,214.57 L190.00,221.44 L190.40,227.38 L190.80,232.41 L191.20,236.59 L191.60,239.96 L192.00,242.58 L192.40,244.50 L192.80,245.76 L193.20,246.38 L193.60,246.38 L194.00,245.76 L194.40,244.50 L194.80,242.58 L195.20,239.96 L195.60,236.59 L196.00,232.41 L196.40,227.38 L196.80,221.44 L197.20,214.57 L197.60,206.79 L198.00,198.27 L198.40,189.64 L198.80,182.72 L199.20,181.02 L199.60,185.23 L200.00,191.78 L200.40,198.23 L200.80,203.79 L201.20,208.27 L201.61,211.68 L202.01,214.05 L202.41,215.45 L202.81,215.93 L203.21,215.52 L203.61,214.27 L204.01,212.25 L204.41,209.55 L204.81,206.34 L205.21,202.95 L205.61,199.88 L206.01,197.92 L206.41,197.79 L206.81,199.77 L207.21,203.42 L207.61,207.97 L208.01,212.75 L208.41,217.33 L208.81,221.45 L209.21,224.96 L209.61,227.82 L210.01,229.98 L210.41,231.44 L210.81,232.19 L211.21,232.23 L211.61,231.53 L212.01,230.09 L212.41,227.88 L212.81,224.88 L213.21,221.09 L213.61,216.54 L214.01,211.39 L214.41,206.00 L214.81,201.14 L215.21,198.13 L215.61,198.29 L216.01,201.74 L216.41,207.24 L216.81,213.47 L217.22,219.57 L217.62,225.15 L218.02,230.01 L218.42,234.12 L218.82,237.46 L219.22,240.07 L219.62,241.97 L220.02,243.19 L220.42,243.77 L220.82,243.70 L221.22,242.99 L221.62,241.63 L222.02,239.58 L222.42,236.82 L222.82,233.31 L223.22,228.97 L223.62,223.77 L224.02,217.64 L224.42,210.52 L224.82,202.34 L225.22,193.05 L225.62,182.62 L226.02,171.44 L226.42,164.24 L226.82,170.62 L227.22,179.49 L227.62,186.78 L228.02,192.39 L228.42,196.46 L228.82,199.16 L229.22,200.55 L229.62,200.72 L230.02,199.66 L230.42,197.39 L230.82,193.88 L231.22,189.15 L231.62,183.38 L232.02,177.45 L232.42,174.36 L232.83,177.88 L233.23,185.77 L233.63,194.57 L234.03,202.98 L234.43,210.61 L234.83,217.38 L235.23,223.25 L235.63,228.25 L236.03,232.43 L236.43,235.81 L236.83,238.45 L237.23,240.38 L237.63,241.62 L238.03,242.21 L238.43,242.15 L238.83,241.43 L239.23,240.04 L239.63,237.97 L240.03,235.17 L240.43,231.63 L240.83,227.34 L241.23,222.33 L241.63,216.72 L242.03,210.80 L242.43,205.20 L242.83,201.01 L243.23,199.55 L243.63,201.34 L244.03,205.54 L244.43,210.81 L244.83,216.17 L245.23,221.11 L245.63,225.38 L246.03,228.89 L246.43,231.64 L246.83,233.64 L247.23,234.89 L247.63,235.43 L248.03,235.27 L248.44,234.41 L248.84,232.86 L249.24,230.61 L249.64,227.65 L250.04,223.99 L250.44,219.66 L250.84,214.74 L251.24,209.39 L251.64,203.95 L252.04,198.97 L252.44,195.33 L252.84,193.88 L253.24,194.83 L253.64,197.49 L254.04,200.88 L254.44,204.24 L254.84,207.13 L255.24,209.31 L255.64,210.66 L256.04,211.11 L256.44,210.60 L256.84,209.07 L257.24,206.48 L257.64,202.72 L258.04,197.73 L258.44,191.42 L258.84,183.93 L259.24,176.35 L259.64,173.44 L260.04,179.55 L260.44,189.29 L260.84,199.01 L261.24,207.86 L261.64,215.67 L262.04,222.45 L262.44,228.26 L262.84,233.13 L263.24,237.15 L263.64,240.37 L264.04,242.85 L264.45,244.64 L264.85,245.77 L265.25,246.26 L265.65,246.14 L266.05,245.38 L266.45,243.99 L266.85,241.93 L267.25,239.15 L267.65,235.62 L268.05,231.29 L268.45,226.11 L268.85,220.07 L269.25,213.18 L269.65,205.60 L270.05,197.77 L270.45,190.84 L270.85,187.02 L271.25,188.16 L271.65,193.00 L272.05,199.00 L272.45,204.76 L272.85,209.74 L273.25,213.77 L273.65,216.85 L274.05,218.99 L274.45,220.24 L274.85,220.62 L275.25,220.19 L275.65,218.96 L276.05,217.00 L276.45,214.36 L276.85,211.17 L277.25,207.65 L277.65,204.19 L278.05,201.36 L278.45,199.89 L278.85,200.29 L279.25,202.55 L279.65,206.10 L280.06,210.26 L280.46,214.47 L280.86,218.37 L281.26,221.76 L281.66,224.53 L282.06,226.62 L282.46,228.00 L282.86,228.65 L283.26,228.56 L283.66,227.70 L284.06,226.06 L284.46,223.61 L284.86,220.33 L285.26,216.22 L285.66,211.37 L286.06,205.98 L286.46,200.62 L286.86,196.42 L287.26,195.06 L287.66,197.44 L288.06,202.70 L288.46,209.21 L288.86,215.84 L289.26,222.02 L289.66,227.51 L290.06,232.23 L290.46,236.15 L290.86,239.31 L291.26,241.74 L291.66,243.48 L292.06,244.56 L292.46,244.99 L292.86,244.80 L293.26,243.97 L293.66,242.48 L294.06,240.32 L294.46,237.43 L294.86,233.77 L295.26,229.28 L295.67,223.89 L296.07,217.53 L296.47,210.12 L296.87,201.55 L297.27,191.68 L297.67,180.25 L298.07,166.61 L298.47,153.93 L298.87,169.48 L299.27,180.01 L299.67,187.88 L300.07,193.79 L300.47,198.09 L300.87,200.98 L301.27,202.60 L301.67,203.03 L302.07,202.32 L302.47,200.50 L302.87,197.63 L303.27,193.82 L303.67,189.36 L304.07,185.05 L304.47,182.60 L304.87,184.00 L305.27,189.13 L305.67,196.08 L306.07,203.40 L306.47,210.38 L306.87,216.72 L307.27,222.30 L307.67,227.10 L308.07,231.12 L308.47,234.37 L308.87,236.90 L309.27,238.71 L309.67,239.85 L310.07,240.31 L310.47,240.11 L310.87,239.24 L311.28,237.68 L311.68,235.42 L312.08,232.42 L312.48,228.67 L312.88,224.19 L313.28,219.04 L313.68,213.45 L314.08,207.86 L314.48,203.15 L314.88,200.58 L315.28,201.13 L315.68,204.53 L316.08,209.56 L316.48,215.07 L316.88,220.36 L317.28,225.09 L317.68,229.12 L318.08,232.39 L318.48,234.91 L318.88,236.71 L319.28,237.79 L319.68,238.18 L320.08,237.89 L320.48,236.93 L320.88,235.27 L321.28,232.91 L321.68,229.84 L322.08,226.04 L322.48,221.50 L322.88,216.26 L323.28,210.40 L323.68,204.15 L324.08,197.91 L324.48,192.53 L324.88,189.21 L325.28,188.91 L325.68,191.23 L326.08,194.84 L326.48,198.59 L326.88,201.87 L327.29,204.36 L327.69,205.94 L328.09,206.52 L328.49,206.06 L328.89,204.49 L329.29,201.73 L329.69,197.68 L330.09,192.18 L330.49,185.02 L330.89,175.99 L331.29,165.97 L331.69,166.63 L332.09,178.29 L332.49,189.73 L332.89,199.87 L333.29,208.75 L333.69,216.46 L334.09,223.09 L334.49,228.73 L334.89,233.45 L335.29,237.32 L335.69,240.40 L336.09,242.75 L336.49,244.41 L336.89,245.41 L337.29,245.78 L337.69,245.52 L338.09,244.63 L338.49,243.10 L338.89,240.88 L339.29,237.95 L339.69,234.25 L340.09,229.76 L340.49,224.45 L340.89,218.33 L341.29,211.53 L341.69,204.37 L342.09,197.62 L342.49,192.80 L342.90,191.76 L343.30,194.69 L343.70,199.85 L344.10,205.51 L344.50,210.78 L344.90,215.30 L345.30,218.96 L345.70,221.73 L346.10,223.65 L346.50,224.73 L346.90,225.00 L347.30,224.50 L347.70,223.25 L348.10,221.27 L348.50,218.62 L348.90,215.37 L349.30,211.68 L349.70,207.83 L350.10,204.26 L350.50,201.59" stroke="#ff0000" stroke-width="0.8" stroke-dasharray="2.4,1.7"/>
</g>
<line x1="193.40" y1="57" x2="193.40" y2="243.5" stroke="#008b00" stroke-width="1.3"/>
<g fill="none" stroke="#000">
<path d="M32.90,22.55 H413.05 M32.90,258.30 H413.05" stroke-width="1.2"/>
<path d="M33.50,22.55 V258.30 M353.60,22.55 V258.30 M412.45,22.55 V258.30" stroke-width="1.25"/>
<path d="M54.33,22.55 v7.00 M54.33,258.30 v-7.00 M89.11,22.55 v3.50 M89.11,258.30 v-3.50 M123.89,22.55 v7.00 M123.89,258.30 v-7.00 M158.67,22.55 v3.50 M158.67,258.30 v-3.50 M193.45,22.55 v7.00 M193.45,258.30 v-7.00 M228.23,22.55 v3.50 M228.23,258.30 v-3.50 M263.01,22.55 v7.00 M263.01,258.30 v-7.00 M297.79,22.55 v3.50 M297.79,258.30 v-3.50 M332.57,22.55 v7.00 M332.57,258.30 v-7.00 M33.50,247.00 h3.80 M353.60,247.00 h-3.80 M33.50,236.25 h7.50 M353.60,236.25 h-7.50 M33.50,225.50 h3.80 M353.60,225.50 h-3.80 M33.50,214.75 h3.80 M353.60,214.75 h-3.80 M33.50,204.00 h3.80 M353.60,204.00 h-3.80 M33.50,193.25 h7.50 M353.60,193.25 h-7.50 M33.50,182.50 h3.80 M353.60,182.50 h-3.80 M33.50,171.75 h3.80 M353.60,171.75 h-3.80 M33.50,161.00 h3.80 M353.60,161.00 h-3.80 M33.50,150.25 h7.50 M353.60,150.25 h-7.50 M33.50,139.50 h3.80 M353.60,139.50 h-3.80 M33.50,128.75 h3.80 M353.60,128.75 h-3.80 M33.50,118.00 h3.80 M353.60,118.00 h-3.80 M33.50,107.25 h7.50 M353.60,107.25 h-7.50 M33.50,96.50 h3.80 M353.60,96.50 h-3.80 M33.50,85.75 h3.80 M353.60,85.75 h-3.80 M33.50,75.00 h3.80 M353.60,75.00 h-3.80 M33.50,64.25 h7.50 M353.60,64.25 h-7.50 M33.50,53.50 h3.80 M353.60,53.50 h-3.80 M33.50,42.75 h3.80 M353.60,42.75 h-3.80 M33.50,32.00 h3.80 M353.60,32.00 h-3.80 M360.50,22.55 v6.30 M360.50,258.30 v-6.30 M371.80,22.55 v3.50 M371.80,258.30 v-3.50 M383.10,22.55 v6.30 M383.10,258.30 v-6.30 M394.40,22.55 v3.50 M394.40,258.30 v-3.50 M405.60,22.55 v6.30 M405.60,258.30 v-6.30 M353.60,37.00 h6.6 M412.45,37.00 h-6.6 M353.60,66.50 h6.6 M412.45,66.50 h-6.6 M353.60,96.00 h6.6 M412.45,96.00 h-6.6 M353.60,125.50 h6.6 M412.45,125.50 h-6.6 M353.60,155.00 h6.6 M412.45,155.00 h-6.6 M353.60,184.50 h6.6 M412.45,184.50 h-6.6 M353.60,214.00 h6.6 M412.45,214.00 h-6.6 M353.60,243.50 h6.6 M412.45,243.50 h-6.6" stroke-width="0.85"/>
</g>
<line x1="41" y1="38.3" x2="61.2" y2="38.2" stroke="#0000ff" stroke-width="1.8"/>
<line x1="191.6" y1="38.5" x2="208.1" y2="38.5" stroke="#ff0000" stroke-width="1" stroke-dasharray="3.9,2.3"/>
<g fill="#000" font-size="16.3" opacity="0.999">
<text x="35.9" y="11.7">a) helical indices</text>
<text x="353.7" y="12.2">b) linear</text>
<text x="68.3" y="42.5">free-particle</text>
<text x="213.3" y="42.5">renormalized</text>
<text transform="translate(12.1,140.2) rotate(-90)" text-anchor="middle">Energy (eV)</text>
<text x="164.20" y="292.3">k<tspan font-size="12" dy="6.3" dx="0.6">z</tspan><tspan dy="-6.3" dx="-0.3"> (nm</tspan><tspan font-size="11.2" dy="-9.8" dx="0.5">-1</tspan><tspan dy="9.8">)</tspan></text><path d="M164.90,279.1 q1.8,-2.7 3.6,-1 t3.6,-1" fill="none" stroke="#000" stroke-width="1.1"/>
<text x="353.40" y="292.3">k<tspan font-size="12" dy="7.2" dx="0.6">z</tspan><tspan dy="-7.2" dx="-0.4"> (nm</tspan><tspan font-size="11.2" dy="-9.8" dx="0.5">-1</tspan><tspan dy="9.8">)</tspan></text>
</g>
<g fill="#000" font-size="14.4" opacity="0.999">
<text x="54.68" y="271.7" text-anchor="middle">-400</text>
<text x="124.24" y="271.7" text-anchor="middle">-200</text>
<text x="193.50" y="271.7" text-anchor="middle">0</text>
<text x="263.06" y="271.7" text-anchor="middle">200</text>
<text x="332.62" y="271.7" text-anchor="middle">400</text>
<text x="30.6" y="241.95" text-anchor="end">-8</text>
<text x="30.6" y="198.95" text-anchor="end">-4</text>
<text x="30.6" y="155.95" text-anchor="end">0</text>
<text x="30.6" y="112.95" text-anchor="end">4</text>
<text x="30.6" y="69.95" text-anchor="end">8</text>
<text x="360.80" y="271.7" text-anchor="middle">-0.5</text>
<text x="383.30" y="271.7" text-anchor="middle">0</text>
<text x="406.30" y="271.7" text-anchor="middle">0.5</text>
</g>
<g fill="#670748" font-size="12.8" opacity="0.999">
<text x="200.10" y="155" font-size="13.2">M</text><text x="213.00" y="160.8" font-size="9">11</text><text x="213.60" y="147.60" font-size="11">+</text>
<text x="235.10" y="155" font-size="13.2">M</text><text x="248.00" y="160.8" font-size="9">22</text><text x="248.60" y="147.60" font-size="11">+</text>
<text x="264.60" y="155" font-size="13.2">M</text><text x="277.50" y="160.8" font-size="9">22</text><text x="279.00" y="146.60" font-size="10">-</text>
<text x="306.00" y="155" font-size="13.2">M</text><text x="318.90" y="160.8" font-size="9">11</text><text x="320.30" y="148.20" font-size="10">-</text>
</g>
<path d="M226.60,144.50 V158.00 M224.00,147.90 l2.6,-3.4 l2.6,3.4 M224.00,154.60 l2.6,3.4 l2.6,-3.4" fill="none" stroke="#670748" stroke-width="1.25"/>
<path d="M232.70,139.40 V161.70 M230.10,142.80 l2.6,-3.4 l2.6,3.4 M230.10,158.30 l2.6,3.4 l2.6,-3.4" fill="none" stroke="#670748" stroke-width="1.25"/>
<path d="M260.20,139.80 V161.30 M257.60,143.20 l2.6,-3.4 l2.6,3.4 M257.60,157.90 l2.6,3.4 l2.6,-3.4" fill="none" stroke="#670748" stroke-width="1.25"/>
<path d="M331.40,145.20 V158.50 M328.80,148.60 l2.6,-3.4 l2.6,3.4 M328.80,155.10 l2.6,3.4 l2.6,-3.4" fill="none" stroke="#670748" stroke-width="1.25"/>
</svg>
</body></html>
